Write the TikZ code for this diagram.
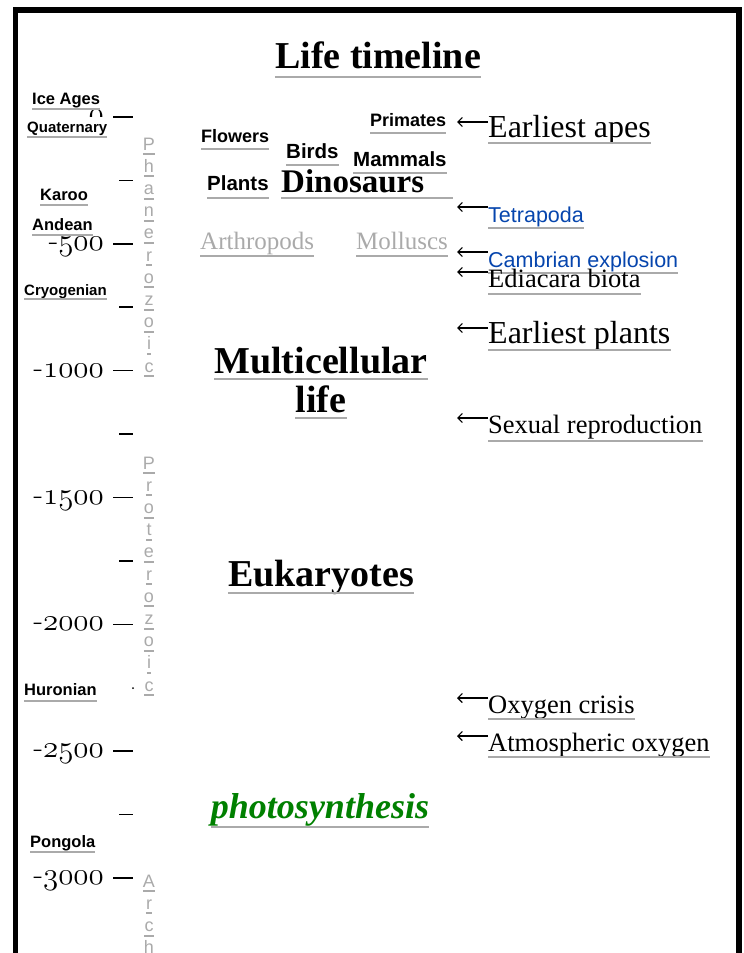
\RequirePackage{fix-cm}
\documentclass[tikz,border=0pt]{standalone}
\usepackage{fontspec}
\newfontfamily\gser{Liberation Serif}
\newfontfamily\asans{Liberation Sans}
\usetikzlibrary{arrows.meta}
\definecolor{lgray}{RGB}{170,170,170}
\definecolor{linkblue}{RGB}{6,69,173}
\definecolor{leafgreen}{RGB}{0,128,0}
\newcommand\osf[1]{{\usefont{OML}{cmm}{m}{it}#1}}
\tikzset{
  uline/.style={draw=lgray, line width=2pt},
  ul/.style={inner xsep=0pt, inner ysep=#1, text depth=0pt,
    append after command={(\tikzlastnode.south west) edge[uline] (\tikzlastnode.south east)}},
  ul/.default=6pt,
  serif/.style={font=\gser\fontsize{#1}{#1}\selectfont},
  serifb/.style={font=\gser\bfseries\fontsize{#1}{#1}\selectfont},
  serifbi/.style={font=\gser\bfseries\itshape\fontsize{#1}{#1}\selectfont},
  sans/.style={font=\asans\fontsize{#1}{#1}\selectfont},
  sansb/.style={font=\asans\bfseries\fontsize{#1}{#1}\selectfont},
  yrnum/.style={font=\fontsize{31}{31}\selectfont, inner sep=0pt, anchor=base east},
  era/.style={ul=4pt, sans=18, text=lgray, anchor=base},
  tickmark/.style={line width=1.6pt},
  arr/.style={line width=1.2pt, -{Straight Barb[length=4.5pt, width=9pt]}},
}
\begin{document}
\begin{tikzpicture}[x=1pt, y=-1pt]
  \useasboundingbox (0,0) rectangle (744,953);
  \draw[line width=5.5pt] (15.5,953) -- (15.5,10) -- (739,10) -- (739,953);
  \node[ul=9pt, serifb=38, anchor=base] (title) at (378,68) {Life timeline};

  % time axis, 250 Myr = 63.42
  \foreach \k/\sg/\yr in {0//0,2/-/500,4/-/1000,6/-/1500,8/-/2000,10/-/2500,12/-/3000} {
    \draw[tickmark] (113,{117+63.42*\k}) -- (133,{117+63.42*\k});
    \node[yrnum] (yr\k) at (104,{123.5+63.42*\k}) {\sg\osf{\yr}};
  }
  \foreach \k in {1,3,5,7,11}
    \draw[tickmark] (119,{117+63.42*\k}) -- (133,{117+63.42*\k});
  \fill (133,688) circle (1);

  \foreach \c [count=\i from 0] in {P,h,a,n,e,r,o,z,o,i,c}
    \node[era] (ph\i) at (149,{150+22.2*\i}) {\c};
  \foreach \c [count=\i from 0] in {P,r,o,t,e,r,o,z,o,i,c}
    \node[era] (pr\i) at (149,{469+22.2*\i}) {\c};
  \foreach \c [count=\i from 0] in {A,r,c,h}
    \node[era] (ar\i) at (149,{887+22.2*\i}) {\c};

  % ice ages
  \node[ul=5pt, sansb=16.5, anchor=base west] (iceages) at (32,104) {Ice Ages};
  \node[ul=5pt, sansb=15, anchor=base west, fill=white] (quaternary) at (27,132) {Quaternary};
  \node[ul=4.5pt, sansb=16.5, anchor=base west] (karoo) at (40,200) {Karoo};
  \node[ul=5pt, sansb=16.5, anchor=base west] (andean) at (32,230) {Andean};
  \node[ul=3.5pt, sansb=15, anchor=base west] (cryogenian) at (24,295) {Cryogenian};
  \node[ul=6pt, sansb=16.5, anchor=base west] (huronian) at (24,695) {Huronian};
  \node[ul=4.5pt, sansb=16.5, anchor=base west] (pongola) at (30,847) {Pongola};

  % groups
  \node[ul=7pt, sansb=18, anchor=base west] (flowers) at (201,142) {Flowers};
  \node[ul=7pt, sansb=18, anchor=base west] (primates) at (370,126) {Primates};
  \node[ul=7pt, sansb=20.5, anchor=base west] (birds) at (286,158) {Birds};
  \node[ul=7pt, sansb=20.5, anchor=base west] (mammals) at (353,166) {Mammals};
  \node[ul=8pt, sansb=20.5, anchor=base west] (plants) at (207,190) {Plants};
  \node[ul=6pt, serifb=33, anchor=base west, text width=172pt, align=left] (dinosaurs) at (281,192) {Dinosaurs};
  \node[ul=7pt, serif=25, text=lgray, anchor=base west] (arthropods) at (200,249) {Arthropods};
  \node[ul=7pt, serif=25, text=lgray, anchor=base west] (molluscs) at (356,249) {Molluscs};
  \node[ul=6pt, serifb=38, anchor=base] (multi) at (321,373) {Multicellular};
  \node[ul=6pt, serifb=38, anchor=base] (life) at (321,412) {life};
  \node[ul=7pt, serifb=38, anchor=base] (eukaryotes) at (321,586) {Eukaryotes};
  \node[ul=9pt, serifbi=36, text=leafgreen, anchor=base] (photo) at (320,818) {photosynthesis};

  % events
  \node[ul=5.5pt, serif=32, anchor=base west] (apes) at (488,137) {Earliest apes};
  \node[ul=6pt, sans=21.5, text=linkblue, anchor=base west] (tetrapoda) at (488,222) {Tetrapoda};
  \node[ul=6pt, sans=21.5, text=linkblue, anchor=base west] (cambrian) at (488,267) {Cambrian explosion};
  \node[ul=7pt, serif=26.5, anchor=base west] (ediacara) at (488,287) {Ediacara biota};
  \node[ul=7pt, serif=32, anchor=base west] (eplants) at (488,343) {Earliest plants};
  \node[ul=8pt, serif=26.5, anchor=base west] (sexual) at (488,433) {Sexual reproduction};
  \node[ul=6pt, serif=26.5, anchor=base west] (oxcrisis) at (488,713) {Oxygen crisis};
  \node[ul=6pt, serif=26.5, anchor=base west] (atmos) at (488,751) {Atmospheric oxygen};
  \foreach \ev in {apes,tetrapoda,cambrian,ediacara,eplants,sexual,oxcrisis,atmos}
    \draw[arr] ([yshift=15pt]\ev.base west) -- ++(-31,0);
\end{tikzpicture}
\end{document}
